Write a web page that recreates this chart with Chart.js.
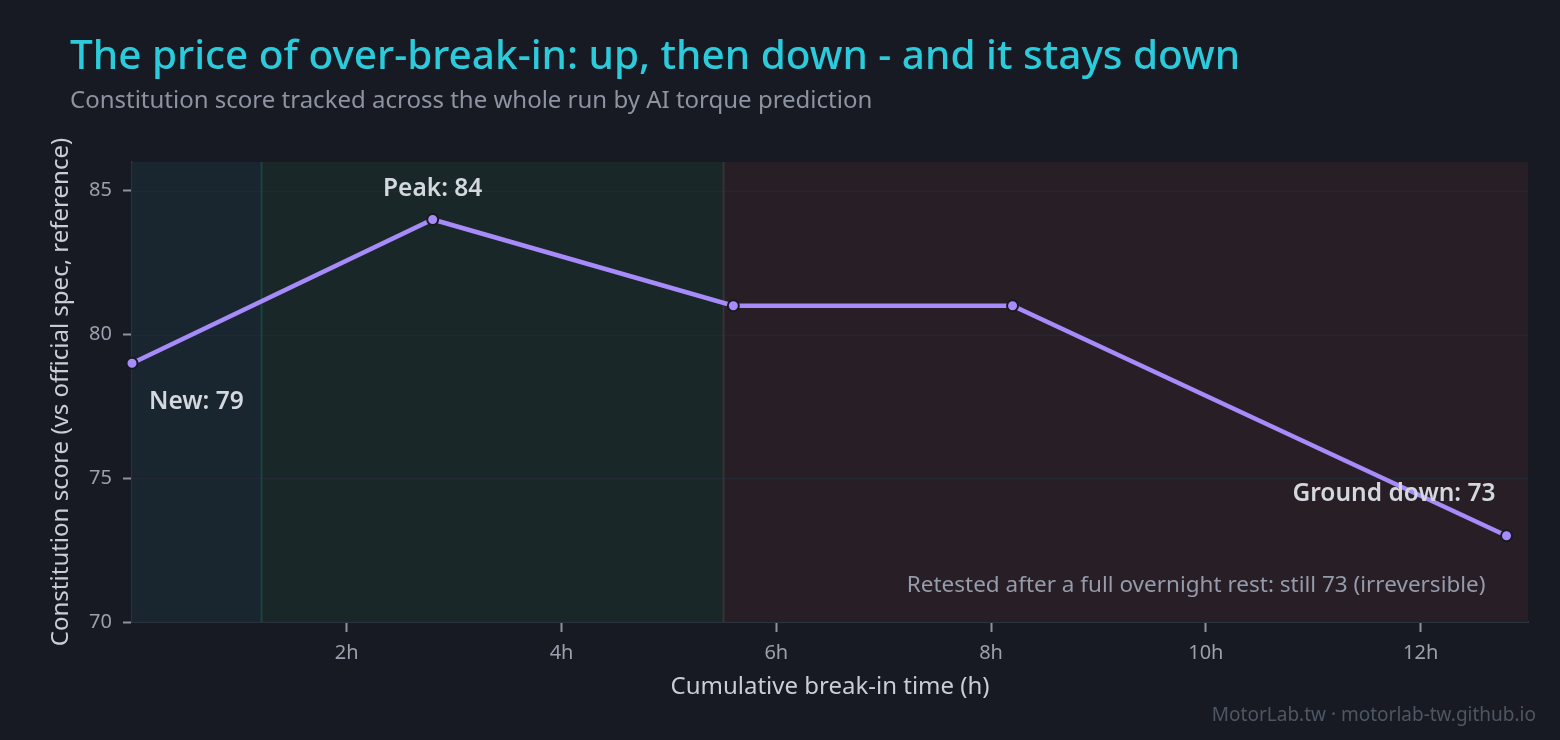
<!DOCTYPE html>
<html>
<head>
<meta charset="utf-8">
<script src="https://cdn.jsdelivr.net/npm/chart.js@4.4.1/dist/chart.umd.min.js"></script>
<style>
  html, body { margin:0; padding:0; background:#171a22; }
  body { width:1560px; height:740px; position:relative; overflow:hidden; font-family:"Noto Sans", "Open Sans", sans-serif; }
  #title { position:absolute; left:70px; top:26px; font-size:40.5px; color:#2ccbdc; font-weight:500; white-space:nowrap; }
  #subtitle { position:absolute; left:70px; top:82px; font-size:24px; color:#8d93a0; white-space:nowrap; }
  #footer { position:absolute; right:24px; top:701px; font-size:19px; color:#4f5663; white-space:nowrap; }
  #wrap { position:absolute; left:0; top:0; width:1560px; height:740px; }
</style>
</head>
<body>
<div id="wrap"><canvas id="c" width="1560" height="740"></canvas></div>
<div id="title">The price of over-break-in: up, then down - and it stays down</div>
<div id="subtitle">Constitution score tracked across the whole run by AI torque prediction</div>
<div id="footer">MotorLab.tw · motorlab-tw.github.io</div>
<script>
// ---- data ----
const hours = [0, 2.8, 5.6, 8.2, 12.8];
const scores = [79, 84, 81, 81, 73];
const xTickValues = [2, 4, 6, 8, 10, 12];
const yTickValues = [70, 75, 80, 85];
const phaseStarts = [0, 1.2, 5.5];
const phaseEnds = [1.2, 5.5, 13];
const pointLabels = ["New: 79", "Peak: 84", "", "", "Ground down: 73"];
const noteText = "Retested after a full overnight rest: still 73 (irreversible)";
const noteAnchor = [12.8, 71.3];

const FONT = '"Noto Sans", "Open Sans", sans-serif';
const bandColors = ['#19252f', '#1a2729', '#271e26'];
const bandLines = ['#1d4240', '#323733'];

const bandPlugin = {
  id: 'bands',
  beforeDatasetsDraw(chart) {
    const {ctx, chartArea: a, scales: {x}} = chart;
    ctx.save();
    for (let i = 0; i < phaseStarts.length; i++) {
      const x0 = x.getPixelForValue(phaseStarts[i]);
      const x1 = x.getPixelForValue(phaseEnds[i]);
      ctx.fillStyle = bandColors[i];
      ctx.fillRect(x0, a.top, x1 - x0, a.bottom - a.top);
    }
    const y = chart.scales.y;
    ctx.strokeStyle = '#232834';
    ctx.lineWidth = 1.5;
    y.ticks.forEach(t => {
      if (t.value === 70) return;
      const py = Math.round(y.getPixelForValue(t.value)) + 0.5;
      ctx.beginPath(); ctx.moveTo(a.left, py); ctx.lineTo(a.right, py); ctx.stroke();
    });
    for (let i = 1; i < phaseStarts.length; i++) {
      const px = Math.round(x.getPixelForValue(phaseStarts[i])) + 0.5;
      ctx.strokeStyle = bandLines[i - 1];
      ctx.lineWidth = 2;
      ctx.beginPath(); ctx.moveTo(px, a.top); ctx.lineTo(px, a.bottom); ctx.stroke();
    }
    ctx.restore();
  },
  afterDatasetsDraw(chart) {
    const {ctx, scales: {x, y}} = chart;
    ctx.save();
    ctx.font = '600 24.5px ' + FONT;
    ctx.fillStyle = '#d3d7de';
    ctx.textBaseline = 'middle';
    let px = x.getPixelForValue(hours[0]), py = y.getPixelForValue(scores[0]);
    ctx.textAlign = 'left';
    ctx.fillText(pointLabels[0], px + 17, py + 39);
    px = x.getPixelForValue(hours[1]); py = y.getPixelForValue(scores[1]);
    ctx.textAlign = 'center';
    ctx.fillText(pointLabels[1], px, py - 30);
    px = x.getPixelForValue(hours[4]); py = y.getPixelForValue(scores[4]);
    ctx.textAlign = 'right';
    ctx.fillText(pointLabels[4], px - 11, py - 42);
    ctx.font = '400 22.5px ' + FONT;
    ctx.fillStyle = '#959baa';
    ctx.textAlign = 'right';
    ctx.fillText(noteText, x.getPixelForValue(noteAnchor[0]) - 21, y.getPixelForValue(noteAnchor[1]) + 1);
    ctx.restore();
  }
};

new Chart(document.getElementById('c'), {
  type: 'line',
  data: {
    datasets: [{
      data: hours.map((h, i) => ({x: h, y: scores[i]})),
      borderColor: '#a78bfa',
      borderWidth: 4.5,
      pointBackgroundColor: '#a78bfa',
      pointBorderColor: '#171a22',
      pointBorderWidth: 2,
      pointRadius: 5.5,
      tension: 0,
      clip: false
    }]
  },
  options: {
    responsive: false,
    animation: false,
    devicePixelRatio: 1,
    layout: { padding: { top: 162, right: 32, left: 0, bottom: 0 } },
    plugins: { legend: { display: false }, tooltip: { enabled: false } },
    scales: {
      x: {
        type: 'linear', min: 0, max: 13,
        afterBuildTicks: s => { s.ticks = xTickValues.map(v => ({value: v})); },
        afterFit: s => { s.height = 118; },
        ticks: { color: '#9aa0ad', font: { family: FONT, size: 20 }, padding: 9, callback: v => v + 'h' },
        grid: { drawOnChartArea: false, drawTicks: true, tickLength: 10, tickColor: '#8c92a0', tickWidth: 2 },
        border: { color: '#2c323e', width: 2 },
        title: { display: true, text: 'Cumulative break-in time (h)', color: '#c9cdd5', font: { family: FONT, size: 24 }, padding: { top: 0, bottom: 38 } }
      },
      y: {
        type: 'linear', min: 70, max: 86,
        afterBuildTicks: s => { s.ticks = yTickValues.map(v => ({value: v})); },
        afterFit: s => { s.width = 132; },
        ticks: { color: '#9aa0ad', font: { family: FONT, size: 20 }, padding: 11 },
        grid: { drawOnChartArea: false, drawTicks: true, tickLength: 9, tickColor: '#8c92a0', tickWidth: 2 },
        border: { color: '#2c323e', width: 2 },
        title: { display: true, text: 'Constitution score (vs official spec, reference)', color: '#c9cdd5', font: { family: FONT, size: 24 }, padding: { top: 47, bottom: 0 } }
      }
    }
  },
  plugins: [bandPlugin]
});
</script>
</body>
</html>
